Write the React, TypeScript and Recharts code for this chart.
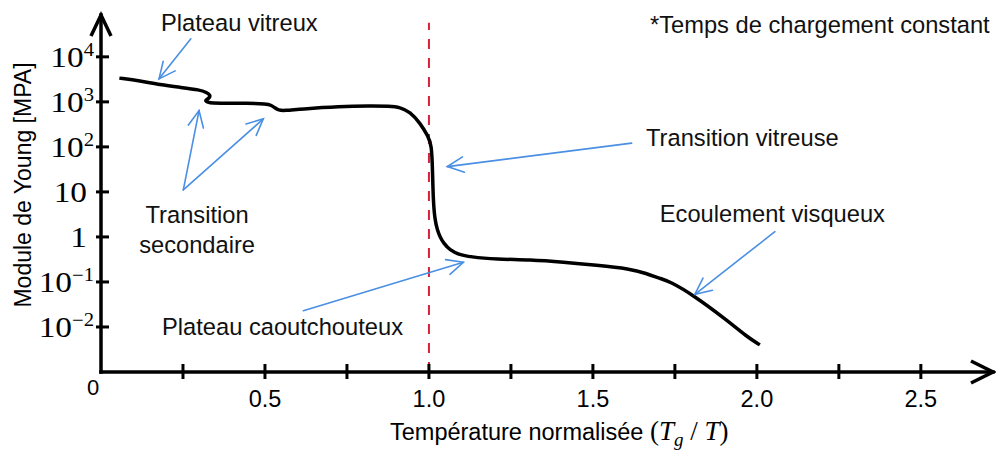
import {
  LineChart,
  Line,
  XAxis,
  YAxis,
  ReferenceLine,
  ReferenceDot,
} from "recharts";

// normalised temperature Tg/T and Young's modulus (MPa) along the curve
const tgOverT = [
  0.056, 0.119, 0.18, 0.241, 0.302, 0.322, 0.334, 0.33, 0.316, 0.325, 0.34,
  0.373, 0.444, 0.505, 0.52, 0.53, 0.541, 0.56, 0.607, 0.729, 0.82, 0.88,
  0.912, 0.942, 0.973, 0.998, 1.008, 1.011, 1.013, 1.018, 1.026, 1.034, 1.045,
  1.064, 1.09, 1.125, 1.206, 1.308, 1.41, 1.511, 1.613, 1.663, 1.704, 1.735,
  1.806, 1.907, 1.968, 2.009,
];
const youngModulus = [
  3370, 2930, 2390, 2100, 1850, 1620, 1400, 1200, 1070, 980, 935, 935, 935,
  900, 840, 740, 650, 640, 690, 790, 810, 800, 760, 600, 340, 170, 110, 30, 6.6,
  2.4, 1.4, 1.0, 0.72, 0.51, 0.41, 0.36, 0.32, 0.31, 0.275, 0.235, 0.195, 0.155,
  0.12, 0.102, 0.051, 0.0145, 0.0062, 0.004,
];

const xTicks = [0, 0.25, 0.5, 0.75, 1, 1.25, 1.5, 1.75, 2, 2.25, 2.5];
const yTicks = [0.01, 0.1, 1, 10, 100, 1000, 10000];
const xDomain = [0, 2.72];
const yDomain = [0.001, 85000];

// glass transition marker
const tgLine = [1, 57500];

// callout arrows: tail -> head, in (Tg/T, MPa)
const arrowFrom = [
  [0.274, 25100],
  [0.251, 11.1],
  [0.251, 11.1],
  [1.618, 121],
  [0.617, 0.023],
  [2.055, 1.31],
];
const arrowTo = [
  [0.177, 3245],
  [0.299, 640],
  [0.495, 420],
  [1.056, 36.5],
  [1.105, 0.274],
  [1.811, 0.0533],
];

const noteText = [
  "Plateau vitreux",
  "Transition",
  "secondaire",
  "Transition vitreuse",
  "Ecoulement visqueux",
  "Plateau caoutchouteux",
  "*Temps de chargement constant",
];
const noteAt = [
  [0.183, 37800],
  [0.293, 2.05],
  [0.293, 0.44],
  [1.662, 105],
  [1.704, 2.15],
  [0.186, 0.00664],
  [1.674, 34100],
];
const noteAnchor = ["start", "middle", "middle", "start", "start", "start", "start"];

const curve = tgOverT.map((t, i) => ({ t, E: youngModulus[i] }));

const SANS = "'Liberation Sans', Arial, sans-serif";
const SERIF = "'Liberation Serif', 'Times New Roman', serif";
const BLUE = "#4a8fe3";

function YTick(props: any) {
  const { x, y, payload } = props;
  const exp = Math.round(Math.log10(payload.value));
  const plain = exp === 0 || exp === 1;
  return (
    <g>
      <line x1={x - 5} x2={x + 8} y1={y} y2={y} stroke="#000" strokeWidth={3} />
      <g transform={`translate(${plain ? x - 14 : x - 7},${y + 10}) scale(1.15,1)`}>
        <text textAnchor="end" fontFamily={SERIF} fontSize={29} fill="#000">
          {exp === 0 ? "1" : "10"}
          {!plain && (
            <tspan fontSize={18} dy={-11}>
              {exp < 0 ? `\u2212${-exp}` : exp}
            </tspan>
          )}
        </text>
      </g>
    </g>
  );
}

function XTick(props: any) {
  const { x, y, payload } = props;
  const v = payload.value;
  if (v === 0) {
    return (
      <text x={x - 8} y={y + 23} textAnchor="middle" fontFamily={SANS} fontSize={22} fill="#000">
        0
      </text>
    );
  }
  const labelled = Math.abs(v * 2 - Math.round(v * 2)) < 1e-6;
  return (
    <g>
      <line x1={x} x2={x} y1={y - 8} y2={y + 7} stroke="#000" strokeWidth={3} />
      {labelled && (
        <text x={x} y={y + 35} textAnchor="middle" fontFamily={SANS} fontSize={23.5} fill="#000">
          {v.toFixed(1)}
        </text>
      )}
    </g>
  );
}

function XTitle(props: any) {
  const { viewBox } = props;
  return (
    <text x={viewBox.x + 289} y={viewBox.y + 68} fill="#000">
      <tspan fontFamily={SANS} fontSize={23.5}>
        {"Température normalisée "}
      </tspan>
      <tspan fontFamily={SERIF} fontSize={27}>(</tspan>
      <tspan fontFamily={SERIF} fontStyle="italic" fontSize={27}>T</tspan>
      <tspan fontFamily={SERIF} fontStyle="italic" fontSize={19} dy={6}>g</tspan>
      <tspan fontFamily={SERIF} fontSize={27} dy={-6}>{" / "}</tspan>
      <tspan fontFamily={SERIF} fontStyle="italic" fontSize={27}>T</tspan>
      <tspan fontFamily={SERIF} fontSize={27}>)</tspan>
    </text>
  );
}

function YTitle() {
  return (
    <text
      transform="translate(31,185) rotate(-90)"
      textAnchor="middle"
      fontFamily={SANS}
      fontSize={23}
      fill="#000"
    >
      Module de Young [MPA]
    </text>
  );
}

function Callout(props: any) {
  const { x1, y1, x2, y2 } = props;
  const a = Math.atan2(y2 - y1, x2 - x1);
  const len = 18;
  const spread = 0.44;
  const ax = x2 - len * Math.cos(a - spread);
  const ay = y2 - len * Math.sin(a - spread);
  const bx = x2 - len * Math.cos(a + spread);
  const by = y2 - len * Math.sin(a + spread);
  return (
    <g stroke={BLUE} strokeWidth={1.6} fill="none" strokeLinecap="round">
      <line x1={x1} y1={y1} x2={x2} y2={y2} />
      <polyline points={`${ax},${ay} ${x2},${y2} ${bx},${by}`} />
    </g>
  );
}

// open chevron drawn at the end of an axis
function axisHead(dir: "up" | "right") {
  return (props: any) => {
    const { cx, cy } = props;
    const pts =
      dir === "up"
        ? `${cx - 10},${cy + 21} ${cx},${cy} ${cx + 10},${cy + 21}`
        : `${cx - 22},${cy - 11} ${cx},${cy} ${cx - 22},${cy + 11}`;
    return (
      <polyline
        points={pts}
        fill="none"
        stroke="#000"
        strokeWidth={3.5}
        strokeLinejoin="miter"
      />
    );
  };
}

function noteShape(text: string, anchor: string) {
  return (props: any) => (
    <text
      x={props.cx}
      y={props.cy}
      textAnchor={anchor as any}
      fontFamily={SANS}
      fontSize={23.7}
      fill="#111"
    >
      {text}
    </text>
  );
}

export default function App() {
  return (
    <div style={{ position: "absolute", left: 0, top: 0, background: "#fff" }}>
      <LineChart
        width={996}
        height={450}
        data={curve}
        margin={{ top: 15, right: 3, bottom: 0, left: 0 }}
      >
        <XAxis
          dataKey="t"
          type="number"
          domain={xDomain}
          allowDataOverflow
          ticks={xTicks}
          interval={0}
          height={78}
          tickSize={0}
          tickMargin={0}
          tickLine={false}
          tick={<XTick />}
          axisLine={{ stroke: "#000", strokeWidth: 3.5, strokeLinecap: "square" }}
          label={<XTitle />}
        />
        <YAxis
          type="number"
          scale="log"
          domain={yDomain}
          allowDataOverflow
          ticks={yTicks}
          interval={0}
          width={101}
          tickSize={0}
          tickMargin={0}
          tickLine={false}
          tick={<YTick />}
          axisLine={{ stroke: "#000", strokeWidth: 3.5, strokeLinecap: "square" }}
          label={<YTitle />}
        />
        <ReferenceLine
          segment={[
            { x: tgLine[0], y: yDomain[0] },
            { x: tgLine[0], y: tgLine[1] },
          ]}
          stroke="#d6213a"
          strokeWidth={2}
          strokeDasharray="10 9"
        />
        <Line
          dataKey="E"
          type="basis"
          stroke="#000"
          strokeWidth={3.5}
          strokeLinejoin="round"
          dot={false}
          activeDot={false}
          isAnimationActive={false}
        />
        {arrowFrom.map((from, i) => (
          <ReferenceLine
            key={`arrow-${i}`}
            segment={[
              { x: from[0], y: from[1] },
              { x: arrowTo[i][0], y: arrowTo[i][1] },
            ]}
            shape={Callout}
          />
        ))}
        {noteText.map((text, i) => (
          <ReferenceDot
            key={`note-${i}`}
            x={noteAt[i][0]}
            y={noteAt[i][1]}
            shape={noteShape(text, noteAnchor[i])}
          />
        ))}
        <ReferenceDot x={0} y={yDomain[1]} shape={axisHead("up")} />
        <ReferenceDot x={xDomain[1]} y={yDomain[0]} shape={axisHead("right")} />
      </LineChart>
    </div>
  );
}
